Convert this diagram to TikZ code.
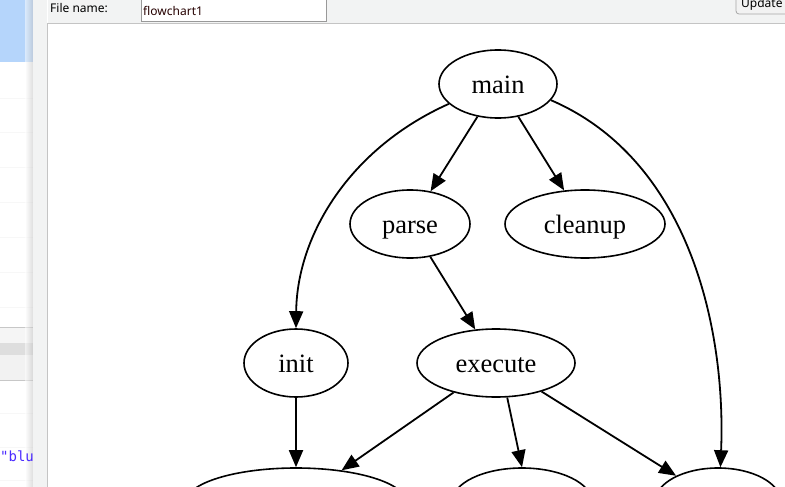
\documentclass[tikz,border=0pt]{standalone}
\usepackage{fontspec}
\setmainfont{Liberation Serif}
\newfontfamily\uifont{Noto Sans}
\newfontfamily\codefont{DejaVu Sans Mono}
\usetikzlibrary{arrows.meta,shapes.geometric}
\definecolor{selblue}{HTML}{B5D5FB}
\definecolor{barbg}{HTML}{F2F3F3}
\definecolor{rulegray}{HTML}{C4C4C4}
\definecolor{codeblue}{HTML}{4B2BFF}
\tikzset{
  gnode/.style={ellipse, draw=black, line width=1.6pt, inner sep=0pt, text height=22pt, text depth=4pt, font=\fontsize{26.5}{30}\selectfont},
  edge/.style={draw=black, line width=1.8pt, -{Triangle[length=17pt,width=14pt]}},
  uitext/.style={font=\uifont\fontsize{12}{14}\selectfont, inner sep=0pt, anchor=west},
}
\begin{document}
\begin{tikzpicture}[x=1pt,y=-1pt]
\useasboundingbox (0,0) rectangle (785,487);
\clip (0,0) rectangle (785,487);
% canvas
\fill[white] (0,0) rectangle (785,487);
% left panel
\begin{scope}
\clip (0,0) rectangle (33,487);
\fill[white] (0,0) rectangle (33,487);
\fill[selblue] (0,0) rectangle (33,62);
\foreach \yy in {98,132,167,202,237,272,307,413,447,480}
  \draw[black!3, line width=0.6pt] (0,\yy) -- (33,\yy);
\draw[black!22, line width=1pt] (0,327) -- (33,327);
\fill[black!4] (0,328) rectangle (33,343);
\fill[black!13] (0,343) rectangle (33,355);
\fill[black!5] (0,355) rectangle (33,380);
\draw[black!22, line width=1pt] (0,380) -- (33,380);
\shade[left color=white, right color=black!25, opacity=0.5] (25,0) rectangle (33,487);
\node[font=\codefont\fontsize{14}{16}\selectfont, text=codeblue, inner sep=0pt, anchor=west] (blu) at (0,456) {"blue"};
\end{scope}
% divider strip
\fill[barbg] (33,0) rectangle (47,487);
\draw[rulegray, line width=1pt] (47.5,23) -- (47.5,487);
% top bar
\fill[barbg] (48,0) rectangle (785,23);
\draw[rulegray, line width=1pt] (47.5,23.5) -- (785,23.5);
\node[uitext] (fname) at (50,8) {File name:};
\draw[fill=white, draw=black!40, line width=0.8pt] (141,-2) rectangle (326,21);
\node[uitext, text=black!85!red] (fval) at (143,11) {flowchart1};
\draw[fill=black!5, draw=black!35, line width=0.8pt, rounded corners=3pt] (736,-6) rectangle (792,14);
\node[uitext] (upd) at (741,4) {Update};
% graph nodes
\node[gnode, minimum width=118pt, minimum height=68pt] (main) at (498,84) {main};
\node[gnode, minimum width=120pt, minimum height=68pt] (parse) at (410,224) {parse};
\node[gnode, minimum width=160pt, minimum height=68pt] (cleanup) at (585,224) {cleanup};
\node[gnode, minimum width=104pt, minimum height=68pt] (init) at (296,363) {init};
\node[gnode, minimum width=158pt, minimum height=68pt] (execute) at (496,363) {execute};
\node[gnode, minimum width=220pt, minimum height=68pt] (mk) at (296,502) {};
\node[gnode, minimum width=140pt, minimum height=68pt] (cmp) at (522,502) {};
\node[gnode, minimum width=126pt, minimum height=68pt] (prf) at (718,502) {};
% edges
\draw[edge] (main) -- (parse);
\draw[edge] (main) -- (cleanup);
\draw[edge] (main.202) .. controls (350,148) and (297,235) .. (init.north);
\draw[edge] (main.343) .. controls (690,160) and (726,330) .. (prf.86);
\draw[edge] (parse) -- (execute);
\draw[edge] (init) -- (mk);
\draw[edge] (execute) -- (mk);
\draw[edge] (execute.288) -- (cmp.north);
\draw[edge] (execute) -- (prf);
\end{tikzpicture}
\end{document}
